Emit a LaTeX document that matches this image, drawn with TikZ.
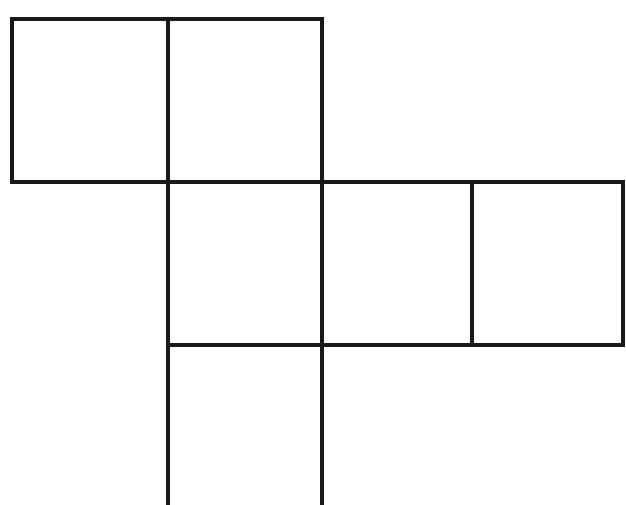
\documentclass[tikz,border=0pt]{standalone}
\usepackage{tikz}

\begin{document}
\begin{tikzpicture}[x=0.5pt, y=-0.5pt]

    % Fix the frame to the size of the picture
    \useasboundingbox (0,0) rectangle (626,504);
    \clip (0,0) rectangle (626,504);

    % Line style of the net
    \tikzset{netline/.style={draw=black!90, line width=2pt, line join=miter}}

    % Top row: two faces
    \draw[netline] (12,19) rectangle (168,182);
    \draw[netline] (168,19) rectangle (322,182);

    % Middle row: three faces
    \foreach \xa/\xb in {168/322, 322/472, 472/623}{
        \draw[netline] (\xa,182) rectangle (\xb,345);
    }

    % Bottom face, cut off at the lower edge
    \draw[netline] (168,345) rectangle (322,530);

\end{tikzpicture}
\end{document}
